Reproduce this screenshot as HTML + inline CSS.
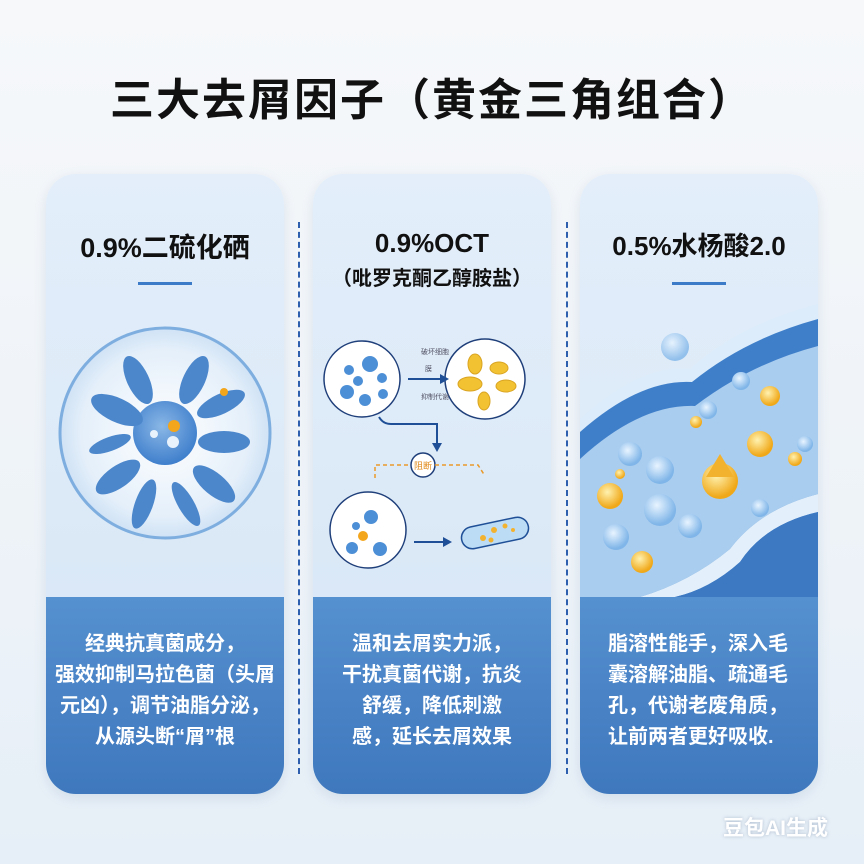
<!DOCTYPE html>
<html><head><meta charset="utf-8">
<style>
html,body{margin:0;padding:0}
body{width:864px;height:864px;position:relative;overflow:hidden;background:linear-gradient(180deg,#f6f8fa 0%,#eef3f8 60%,#e6eff7 100%);font-family:"Liberation Sans","Noto Sans CJK SC",sans-serif}
.title{position:absolute;left:0;width:864px;top:64px;text-align:center;font-size:44px;font-weight:bold;color:#111;letter-spacing:2px;font-family:"Liberation Sans","Noto Sans CJK SC",sans-serif}
.card{position:absolute;top:174px;width:238px;height:620px;border-radius:30px;overflow:hidden;background:linear-gradient(180deg,#e3eefa 0%,#dbe9f7 60%,#d6e6f6 100%);box-shadow:0 4px 12px rgba(80,120,170,0.15)}
.h{position:absolute;left:0;width:100%;text-align:center;color:#111;font-weight:bold}
.ul{position:absolute;top:108px;left:92px;width:54px;height:3px;background:#3b7bc8}
.bot{position:absolute;left:0;top:423px;width:100%;height:197px;background:linear-gradient(180deg,#5590d0 0%,#3f78bd 100%);color:#fff;font-weight:bold;font-size:20px;line-height:31px}
.bot div{position:absolute;top:32px;left:0;width:100%;text-align:center}
.dash{position:absolute;top:222px;height:552px;border-left:2px dashed #2d5fae;width:0}
.wm{position:absolute;left:723px;top:812px;color:#fff;font-size:21px;font-weight:bold;text-shadow:0 0 3px rgba(120,140,170,0.5)}
</style></head><body>
<div class="title">三大去屑因子（黄金三角组合）</div>

<div class="card" style="left:46px">
  <div class="h" style="top:52px;font-size:27px">0.9%二硫化硒</div>
  <div class="ul"></div>
  <svg style="position:absolute;left:0;top:0" width="238" height="423">
    <defs>
      <radialGradient id="g1" cx="50%" cy="50%" r="50%"><stop offset="0" stop-color="#ffffff"/><stop offset="0.8" stop-color="#e4effa"/><stop offset="1" stop-color="#cfe2f5"/></radialGradient>
      <radialGradient id="g2" cx="45%" cy="40%" r="60%"><stop offset="0" stop-color="#8ab7e6"/><stop offset="1" stop-color="#3f7fcc"/></radialGradient>
    </defs>
    <circle cx="119" cy="259" r="105" fill="url(#g1)" stroke="#7eaedf" stroke-width="3"/>
    <circle cx="119" cy="259" r="32" fill="url(#g2)"/>
    <circle cx="128" cy="252" r="6" fill="#f3a51c"/>
    <circle cx="127" cy="268" r="6" fill="#e8f2fc"/>
    <circle cx="108" cy="260" r="4" fill="#e8f2fc"/>
    <g fill="#4c87cc">
      <ellipse cx="92" cy="206" rx="11" ry="26" transform="rotate(-25 92 206)"/>
      <ellipse cx="148" cy="206" rx="11" ry="26" transform="rotate(25 148 206)"/>
      <ellipse cx="71" cy="236" rx="12" ry="28" transform="rotate(-65 71 236)"/>
      <ellipse cx="175" cy="230" rx="10" ry="26" transform="rotate(65 175 230)"/>
      <ellipse cx="178" cy="268" rx="11" ry="26" transform="rotate(90 178 268)"/>
      <ellipse cx="64" cy="270" rx="7" ry="22" transform="rotate(70 64 270)"/>
      <ellipse cx="72" cy="303" rx="11" ry="26" transform="rotate(55 72 303)"/>
      <ellipse cx="168" cy="310" rx="11" ry="26" transform="rotate(-50 168 310)"/>
      <ellipse cx="98" cy="330" rx="9" ry="26" transform="rotate(20 98 330)"/>
      <ellipse cx="140" cy="330" rx="8" ry="25" transform="rotate(-30 140 330)"/>
    </g>
    <circle cx="178" cy="218" r="4" fill="#f3a51c"/>
  </svg>
  <div class="bot"><div>经典抗真菌成分，<br>强效抑制马拉色菌（头屑<br>元凶），调节油脂分泌，<br>从源头断“屑”根</div></div>
</div>

<div class="dash" style="left:298px"></div>

<div class="card" style="left:313px">
  <div class="h" style="top:54px;font-size:26px">0.9%OCT</div>
  <div class="h" style="top:88px;font-size:20px">（吡罗克酮乙醇胺盐）</div>
  <svg style="position:absolute;left:0;top:0" width="238" height="423">
    <g stroke="#1f3f7a" stroke-width="1.5" fill="#fff">
      <circle cx="49" cy="205" r="38"/>
      <circle cx="172" cy="205" r="40"/>
      <circle cx="110" cy="291" r="12"/>
      <circle cx="55" cy="356" r="38"/>
    </g>
    <g fill="#4d8fd6">
      <circle cx="57" cy="190" r="8"/><circle cx="36" cy="196" r="5"/><circle cx="45" cy="207" r="5"/>
      <circle cx="34" cy="218" r="7"/><circle cx="52" cy="226" r="6"/><circle cx="69" cy="204" r="5"/><circle cx="70" cy="220" r="5"/>
      <circle cx="58" cy="343" r="7"/><circle cx="43" cy="352" r="4"/><circle cx="39" cy="374" r="6"/><circle cx="67" cy="375" r="7"/>
    </g>
    <circle cx="50" cy="362" r="5" fill="#f3a51c"/>
    <g fill="#f2c233" stroke="#d9a421" stroke-width="1">
      <ellipse cx="162" cy="190" rx="7" ry="10"/><ellipse cx="186" cy="194" rx="9" ry="6"/>
      <ellipse cx="157" cy="210" rx="12" ry="7"/><ellipse cx="193" cy="212" rx="10" ry="6"/><ellipse cx="171" cy="227" rx="6" ry="9"/>
    </g>
    <g stroke="#1f4f96" stroke-width="2" fill="none">
      <line x1="95" y1="205" x2="128" y2="205"/>
      <path d="M66 243 Q70 250 78 250 L124 250 L124 272"/>
      <line x1="101" y1="368" x2="132" y2="368"/>
    </g>
    <g fill="#1f4f96">
      <path d="M136 205 L127 200 L127 210Z"/><path d="M124 278 L119 269 L129 269Z"/><path d="M139 368 L130 363 L130 373Z"/>
    </g>
    <path d="M62 304 L62 291 L98 291 M122 291 L165 291 L172 302" stroke="#e99a2a" stroke-width="1.5" stroke-dasharray="4 3" fill="none"/>
    <text x="110" y="295" font-size="9" fill="#e08a1a" text-anchor="middle" font-family="Noto Sans CJK SC">阻断</text>
    <g font-size="7" fill="#556" font-family="Noto Sans CJK SC"><text x="108" y="180">破坏细胞</text><text x="112" y="197">膜</text><text x="108" y="225">抑制代谢</text></g>
    <rect x="148" y="348" width="68" height="22" rx="11" fill="#bcdcf5" stroke="#1f4f96" stroke-width="1.5" transform="rotate(-12 182 359)"/>
    <g fill="#f3b22e"><circle cx="170" cy="364" r="3"/><circle cx="181" cy="356" r="3"/><circle cx="192" cy="352" r="2.5"/><circle cx="178" cy="366" r="2.5"/><circle cx="200" cy="356" r="2"/></g>
  </svg>
  <div class="bot"><div>温和去屑实力派，<br>干扰真菌代谢，抗炎<br>舒缓，降低刺激<br>感，延长去屑效果</div></div>
</div>

<div class="dash" style="left:566px"></div>

<div class="card" style="left:580px">
  <div class="h" style="top:52px;font-size:26px">0.5%水杨酸2.0</div>
  <div class="ul"></div>
  <svg style="position:absolute;left:0;top:0" width="238" height="423">
    <defs><radialGradient id="gy" cx="40%" cy="35%" r="60%"><stop offset="0" stop-color="#fff2b0"/><stop offset="1" stop-color="#f0a818"/></radialGradient>
    <radialGradient id="gb" cx="40%" cy="35%" r="60%"><stop offset="0" stop-color="#e8f4ff"/><stop offset="1" stop-color="#7fb5e8"/></radialGradient></defs>
    <path d="M0 245 Q60 190 110 195 Q160 150 238 130 L238 423 L0 423Z" fill="#dcecfa"/>
    <path d="M0 258 Q60 205 112 208 Q165 165 238 145 L238 423 L0 423Z" fill="#3f7fca"/>
    <path d="M0 285 Q60 230 115 232 Q170 190 238 172 L238 320 Q180 335 150 375 Q110 408 60 423 L0 423Z" fill="#a9cdef"/>
    <path d="M60 423 Q110 408 150 375 Q180 335 238 320 L238 338 Q185 350 160 388 Q130 415 95 423Z" fill="#e3f0fb"/>
    <path d="M95 423 Q130 415 160 388 Q185 350 238 338 L238 423Z" fill="#3d78c2"/>
    <circle cx="95" cy="173" r="14" fill="url(#gb)" opacity="0.8"/>
    <circle cx="140" cy="307" r="18" fill="url(#gy)"/>
    <path d="M140 280 L126 303 L154 303Z" fill="#f3b22e"/>
    <g fill="url(#gy)"><circle cx="30" cy="322" r="13"/><circle cx="180" cy="270" r="13"/><circle cx="190" cy="222" r="10"/><circle cx="62" cy="388" r="11"/><circle cx="116" cy="248" r="6"/><circle cx="40" cy="300" r="5"/><circle cx="215" cy="285" r="7"/></g>
    <g fill="url(#gb)"><circle cx="50" cy="280" r="12"/><circle cx="80" cy="296" r="14"/><circle cx="80" cy="336" r="16"/><circle cx="110" cy="352" r="12"/><circle cx="36" cy="363" r="13"/><circle cx="128" cy="236" r="9"/><circle cx="161" cy="207" r="9"/><circle cx="225" cy="270" r="8"/><circle cx="180" cy="334" r="9"/></g>
  </svg>
  <div class="bot"><div style="text-align:left;left:28px;width:auto">脂溶性能手，深入毛<br>囊溶解油脂、疏通毛<br>孔，代谢老废角质，<br>让前两者更好吸收.</div></div>
</div>

<div class="wm">豆包AI生成</div>
</body></html>
